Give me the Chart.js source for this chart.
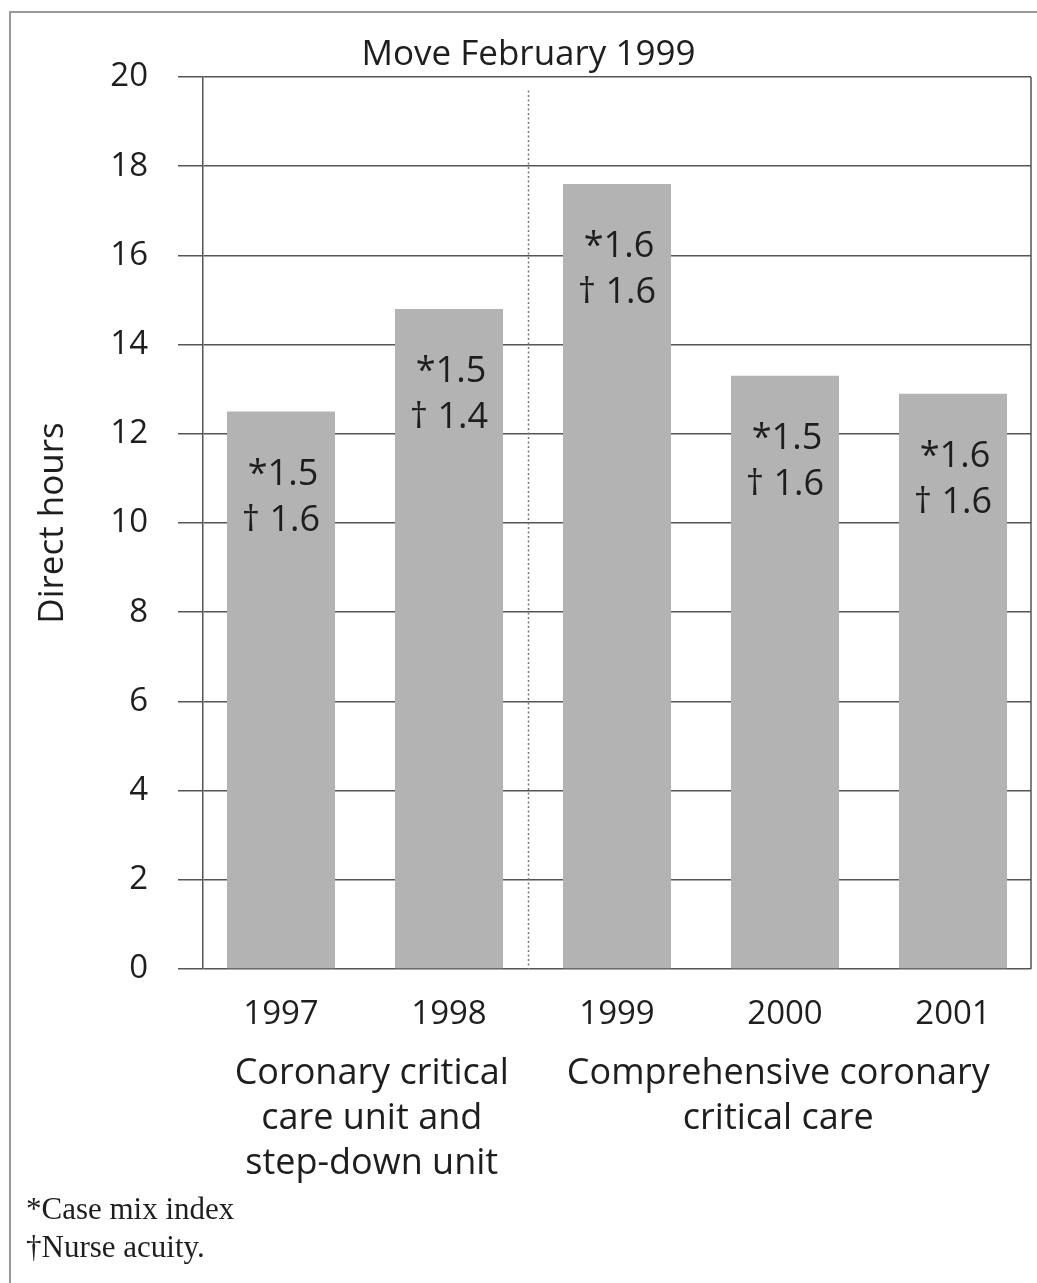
<!DOCTYPE html>
<html>
<head>
<meta charset="utf-8">
<script src="https://cdn.jsdelivr.net/npm/chart.js@4.4.1/dist/chart.umd.min.js"></script>
<style>
  html, body { margin: 0; padding: 0; background: #fff; }
  canvas { display: block; }
</style>
</head>
<body>
<canvas id="c" width="1037" height="1283"></canvas>
<script>
// Direct nursing hours per year, with case mix index (*) and nurse acuity (†)
const years = ['1997', '1998', '1999', '2000', '2001'];
const directHours = [12.5, 14.8, 17.6, 13.3, 12.9];
const caseMixIndex = ['1.5', '1.5', '1.6', '1.5', '1.6'];
const nurseAcuity = ['1.6', '1.4', '1.6', '1.6', '1.6'];
const yTicks = [0, 2, 4, 6, 8, 10, 12, 14, 16, 18, 20];
// unit names, centred at a position on the category axis
const unitGroups = [
  { center: 0.54, lines: ['Coronary critical', 'care unit and', 'step-down unit'] },
  { center: 2.96, lines: ['Comprehensive coronary', 'critical care'] }
];
const moveLabel = 'Move February 1999';
const movePosition = 1.47;   // between 1998 and 1999 on the category axis
const footnotes = ['*Case mix index', '\u2020Nurse acuity.'];

const SANS = '"Open Sans", "Noto Sans", sans-serif';
const INK = '#1e1e1e';
const GRID = '#555555';

const annotations = {
  id: 'annotations',
  afterLayout(chart) {
    // let the category bands run slightly past the framed plot on both sides
    const x = chart.scales.x;
    x.left = chart.chartArea.left - 6;
    x.right = chart.chartArea.right + 6;
    x.width = x.right - x.left;
    x.configure();
  },
  beforeDraw(chart) {
    const { ctx, width, height } = chart;
    ctx.save();
    ctx.fillStyle = '#fff';
    ctx.fillRect(0, 0, width, height);
    // page frame (left and top edges)
    ctx.strokeStyle = '#9a9a9a';
    ctx.lineWidth = 2;
    ctx.beginPath();
    ctx.moveTo(10, height);
    ctx.lineTo(10, 12);
    ctx.lineTo(width, 12);
    ctx.stroke();
    ctx.restore();
  },
  afterDatasetsDraw(chart) {
    const { ctx, chartArea, scales } = chart;
    const x = scales.x, y = scales.y;
    ctx.save();

    // right border of the plot
    ctx.strokeStyle = GRID;
    ctx.lineWidth = 1.5;
    ctx.beginPath();
    ctx.moveTo(chartArea.right, chartArea.top);
    ctx.lineTo(chartArea.right, chartArea.bottom);
    ctx.stroke();

    // dotted divider marking the move
    const mx = Math.round(x.getPixelForValue(movePosition)) + 0.5;
    ctx.strokeStyle = '#777';
    ctx.lineWidth = 1.5;
    ctx.setLineDash([2, 2.5]);
    ctx.beginPath();
    ctx.moveTo(mx, y.getPixelForValue(19.7));
    ctx.lineTo(mx, chartArea.bottom);
    ctx.stroke();
    ctx.setLineDash([]);

    // title centred over the divider
    ctx.fillStyle = INK;
    ctx.font = '35px ' + SANS;
    ctx.textAlign = 'center';
    ctx.textBaseline = 'middle';
    ctx.fillText(moveLabel, mx, chartArea.top - 22);

    // value notes inside each bar
    const meta = chart.getDatasetMeta(0);
    ctx.font = '36px ' + SANS;
    meta.data.forEach((bar, i) => {
      ctx.fillText('*' + caseMixIndex[i], bar.x + 2, bar.y + 63);
      ctx.fillText('\u2020 ' + nurseAcuity[i], bar.x, bar.y + 109);
    });

    // unit group labels under the years
    ctx.font = '36px ' + SANS;
    unitGroups.forEach(g => {
      const cx = x.getPixelForValue(g.center);
      g.lines.forEach((line, k) => {
        ctx.fillText(line, cx, chartArea.bottom + 105 + k * 45);
      });
    });

    // footnotes
    ctx.font = '31px "Liberation Serif", "Times New Roman", serif';
    ctx.textAlign = 'left';
    footnotes.forEach((t, k) => {
      ctx.fillText(t, 26, 1211 + k * 38);
    });
    ctx.restore();
  }
};

new Chart(document.getElementById('c'), {
  type: 'bar',
  data: {
    labels: years,
    datasets: [{
      data: directHours,
      backgroundColor: '#b3b3b3',
      borderWidth: 0,
      categoryPercentage: 1,
      barPercentage: 0.643
    }]
  },
  options: {
    responsive: false,
    animation: false,
    devicePixelRatio: 1,
    layout: { padding: { left: 0, right: 6, top: 77, bottom: 234 } },
    plugins: { legend: { display: false }, tooltip: { enabled: false }, title: { display: false } },
    scales: {
      x: {
        grid: { display: false },
        border: { display: false },
        ticks: { color: INK, font: { family: SANS, size: 33 }, padding: 18, maxRotation: 0 },
        afterFit(s) { s.height = 80; }
      },
      y: {
        min: 0,
        max: 20,
        afterBuildTicks(s) { s.ticks = yTicks.map(v => ({ value: v })); },
        grid: { color: GRID, lineWidth: 1.5, tickLength: 25, drawTicks: true },
        border: { display: true, color: GRID, width: 1.5 },
        ticks: { color: INK, font: { family: SANS, size: 33 }, padding: 30 },
        title: { display: true, text: 'Direct hours', color: INK, font: { family: SANS, size: 35 }, padding: { top: 32, bottom: 0 } },
        afterFit(s) { s.width = 203; }
      }
    }
  },
  plugins: [annotations]
});
</script>
</body>
</html>
